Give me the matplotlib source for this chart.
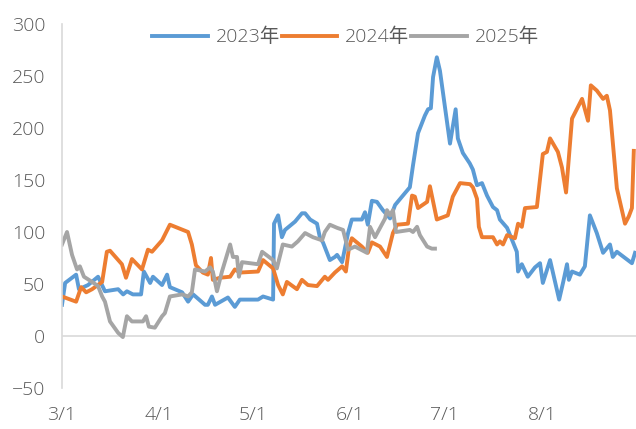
import matplotlib
matplotlib.use("Agg")
import matplotlib.pyplot as plt

# days since 3/1
tick_days = [0, 31, 61, 92, 122, 153]
tick_labels = ["3/1", "4/1", "5/1", "6/1", "7/1", "8/1"]

x2023 = [0, 1, 4.5, 5.4, 8.3, 11.5, 13.7, 17.9, 19.5, 20.7, 22.6, 25.2, 26.1, 28.1, 29, 31.9, 33.5, 34.4,
         38.3, 40.2, 41.8, 45.6, 46.5, 47.8, 48.8, 52.9, 55.1, 56.7, 62.5, 64.1, 67.3, 67.6, 68.9, 70.1,
         71.1, 74.3, 76.5, 77.5, 79.1, 81.3, 82.2, 83.2, 85.4, 87, 87.7, 89.3, 91.2, 92.4, 95.6, 96.6,
         97.5, 98.8, 100.4, 102.3, 104.6, 106.2, 108.4, 110.9, 111.9, 113.5, 115.7, 116.7, 117.6, 118.3,
         119.5, 120.5, 122.1, 123.7, 125.5, 126.2, 127.8, 130, 131, 132.3, 133.9, 135.5, 137.4, 138.7,
         139.6, 141.9, 143.8, 145, 145.4, 146.6, 148.5, 150.8, 152.4, 153.3, 155.6, 157.2, 158.5, 159.8,
         161, 161.6, 162.6, 165.1, 166.7, 168.3, 170.5, 172.5, 174.7, 175.6, 176.9, 181.7, 182.7]
y2023 = [30, 51, 59, 45, 49, 57, 43, 45, 40, 43, 40, 40, 62, 51, 57, 49, 59, 47,
         42, 33, 40, 30, 30, 38, 30, 37, 28, 35, 35, 38, 35, 108, 116, 95,
         102, 110, 118, 118, 112, 108, 95, 90, 73, 76, 78, 71, 99, 112, 112, 119,
         107, 130, 129, 121, 113, 126, 134, 143, 164, 195, 212, 218, 219, 249,
         268, 255, 220, 185, 218, 190, 176, 166, 160, 145, 147, 135, 124, 121,
         112, 104, 90, 81, 62, 69, 57, 66, 70, 51, 73, 52, 35, 52,
         69, 54, 62, 59, 67, 116, 99, 80, 88, 76, 81, 70, 80]

x2024 = [0, 4.5, 6.1, 7.7, 9.6, 12.8, 14.3, 15.3, 19.1, 20.4, 22.3, 25.5, 27.4, 28.7, 31.9, 34.4, 40.2,
         41.4, 42.7, 44.9, 46.5, 47.5, 48.1, 50.4, 53.6, 55.1, 56.7, 62.5, 64.1, 67.3, 68.9, 70.4, 71.7,
         74.9, 76.5, 78.4, 81.3, 83.8, 84.8, 87, 89.3, 90.5, 91.5, 92.4, 95.6, 97.5, 98.8, 101.4, 103.6,
         105.5, 106.8, 110.3, 111.6, 112.5, 113.5, 116.4, 117.3, 119.5, 123, 124.6, 126.9, 130.1, 131,
         132.3, 132.9, 133.9, 137.4, 138.7, 139.6, 140.6, 141.9, 144.4, 145.4, 146.6, 147.6, 151.4, 153.3,
         154.6, 155.6, 158.1, 159.4, 160.7, 162.6, 165.8, 167.7, 168.6, 170.5, 172.5, 173.7, 174.7, 176.9,
         179.5, 180.7, 181.7, 182.3]
y2024 = [38, 33, 47, 42, 45, 52, 81, 82, 69, 56, 74, 64, 83, 81, 92, 107, 100,
         88, 68, 61, 59, 75, 54, 56, 57, 64, 61, 62, 73, 65, 49, 40, 52,
         45, 54, 49, 48, 57, 54, 61, 67, 62, 85, 94, 86, 80, 90, 86, 76,
         99, 107, 108, 135, 134, 123, 129, 144, 112, 116, 134, 147, 146, 143,
         132, 105, 95, 95, 88, 91, 88, 97, 94, 108, 105, 123, 124, 175,
         177, 190, 177, 162, 138, 209, 228, 207, 241, 236, 228, 231, 217, 142,
         108, 115, 123, 178]

x2025 = [0, 1.6, 3.2, 4.8, 5.7, 7, 9.6, 11.5, 12.8, 13.7, 15.3, 17.9, 19.4, 20.7, 22.3, 25.8, 26.8,
         27.7, 29.6, 31.9, 32.8, 34.4, 38.3, 40.2, 41.4, 42.4, 45.6, 47.2, 48.1, 49.4, 51, 53.6, 54.5,
         55.8, 56.4, 57.4, 62.5, 63.8, 67.3, 68.5, 70.4, 73.3, 75.2, 77.5, 80, 82.9, 83.8, 85.4, 87.7,
         89.6, 91.2, 93.4, 97.2, 98.2, 99.8, 103, 103.6, 104.6, 105.5, 106.5, 110.9, 111.9, 113.2, 114.1,
         116.4, 117.9, 118.9]
y2025 = [88, 100, 78, 64, 67, 57, 52, 48, 38, 33, 14, 3, -1, 19, 14, 14, 19,
         9, 8, 19, 22, 38, 40, 38, 42, 64, 62, 66, 62, 43, 62, 88, 76,
         76, 57, 71, 69, 81, 73, 65, 88, 86, 91, 99, 95, 92, 100, 107, 104,
         102, 83, 86, 80, 105, 95, 113, 121, 116, 121, 100, 102, 100, 105, 97,
         86, 84, 84]

plt.rcParams['font.family'] = ['Open Sans', 'Noto Sans CJK SC', 'DejaVu Sans']
plt.rcParams['font.weight'] = 'light'

fig = plt.figure(figsize=(6.36, 4.29), dpi=100)
ax = fig.add_axes([62/636, 1-388/429, 574/636, 364/429])

lw = 2.8
ax.plot(x2023, y2023, color='#5B9BD5', lw=lw, label='2023年', solid_joinstyle='round')
ax.plot(x2024, y2024, color='#ED7D31', lw=lw, label='2024年', solid_joinstyle='round')
ax.plot(x2025, y2025, color='#A5A5A5', lw=lw, label='2025年', solid_joinstyle='round')

ax.axhline(0, color='#D9D9D9', lw=1.2, zorder=0)
ax.set_xlim(0, 183)
ax.set_ylim(-50, 300)
ax.set_yticks(range(-50, 301, 50))
ax.set_yticklabels(['−50' if v < 0 else str(v) for v in range(-50, 301, 50)])
ax.set_xticks(tick_days)
ax.set_xticklabels(tick_labels)

for s in ['top', 'right', 'bottom']:
    ax.spines[s].set_visible(False)
ax.spines['left'].set_color('#D9D9D9')
ax.spines['left'].set_linewidth(1.2)
ax.tick_params(axis='both', length=0, labelsize=14, colors='#595959')
ax.tick_params(axis='y', pad=12)
ax.tick_params(axis='x', pad=13)

leg = ax.legend(loc='center', bbox_to_anchor=(0.494, 0.964), ncol=3, frameon=False,
                prop={'size': 14, 'weight': 'light'}, handlelength=2.85, handletextpad=0.4,
                columnspacing=0.1, borderaxespad=0)
for t in leg.get_texts():
    t.set_color('#595959')

fig.savefig('out.png', dpi=100)
